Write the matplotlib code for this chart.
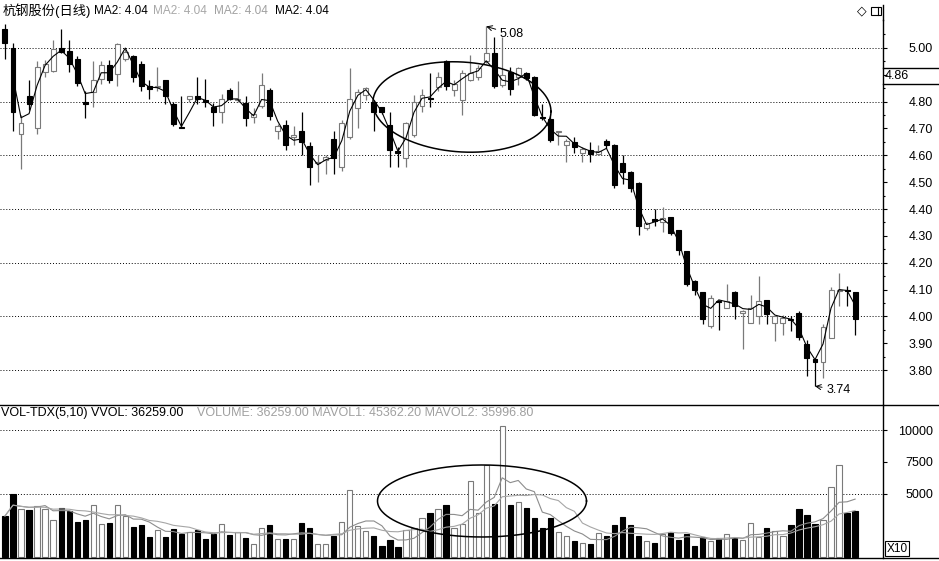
import matplotlib
matplotlib.use('Agg')
import matplotlib.pyplot as plt
import numpy as np
import pandas as pd
from matplotlib.lines import Line2D
from matplotlib.patches import Rectangle

plt.rcParams['font.family'] = ['Liberation Sans', 'Noto Sans CJK SC', 'DejaVu Sans']

# daily candles
opens = [5.07, 5.00, 4.68, 4.82, 4.70, 4.91, 4.915, 5.00, 4.99, 4.96,
         4.80, 4.836, 4.886, 4.935, 4.904, 4.96, 4.97, 4.94, 4.858, 4.855,
         4.88, 4.79, 4.705, 4.81, 4.82, 4.806, 4.78, 4.763, 4.845, 4.805,
         4.794, 4.744, 4.784, 4.844, 4.69, 4.712, 4.67, 4.69, 4.633, 4.57,
         4.583, 4.66, 4.558, 4.67, 4.775, 4.825, 4.80, 4.78, 4.713, 4.616,
         4.59, 4.676, 4.785, 4.815, 4.856, 4.953, 4.843, 4.806, 4.88, 4.893,
         4.95, 4.98, 4.862, 4.912, 4.893, 4.905, 4.893, 4.742, 4.735, 4.686,
         4.637, 4.65, 4.609, 4.618, 4.604, 4.653, 4.64, 4.57, 4.538, 4.497,
         4.328, 4.36, 4.353, 4.37, 4.32, 4.242, 4.13, 4.09, 3.964, 4.059,
         4.031, 4.09, 4.012, 3.977, 4.00, 4.06, 3.977, 3.977, 3.988, 4.012,
         3.897, 3.84, 3.831, 3.92, 4.095, 4.10, 4.09]
highs = [5.09, 5.02, 4.75, 4.88, 4.95, 4.955, 5.03, 5.07, 5.03, 4.97,
         4.84, 4.95, 4.95, 4.954, 5.02, 4.997, 4.973, 4.95, 4.88, 4.93,
         4.88, 4.80, 4.82, 4.822, 4.89, 4.885, 4.795, 4.83, 4.85, 4.875,
         4.82, 4.775, 4.906, 4.85, 4.715, 4.73, 4.71, 4.76, 4.65, 4.60,
         4.60, 4.69, 4.73, 4.925, 4.847, 4.856, 4.806, 4.781, 4.763, 4.632,
         4.725, 4.825, 4.847, 4.905, 4.91, 4.955, 4.88, 4.918, 4.975, 4.937,
         5.08, 5.04, 5.04, 4.93, 4.93, 4.91, 4.895, 4.79, 4.745, 4.688,
         4.662, 4.668, 4.63, 4.65, 4.637, 4.662, 4.642, 4.60, 4.54, 4.50,
         4.353, 4.40, 4.406, 4.372, 4.322, 4.245, 4.137, 4.092, 4.08, 4.06,
         4.122, 4.095, 4.022, 4.08, 4.15, 4.062, 4.00, 4.006, 4.00, 4.02,
         3.912, 3.841, 3.97, 4.11, 4.16, 4.112, 4.092]
lows = [4.96, 4.69, 4.55, 4.77, 4.68, 4.89, 4.91, 4.98, 4.91, 4.86,
        4.74, 4.78, 4.867, 4.87, 4.86, 4.95, 4.873, 4.84, 4.81, 4.84,
        4.79, 4.71, 4.70, 4.80, 4.79, 4.78, 4.71, 4.72, 4.805, 4.80,
        4.71, 4.72, 4.775, 4.73, 4.66, 4.62, 4.64, 4.60, 4.49, 4.50,
        4.53, 4.53, 4.54, 4.66, 4.70, 4.806, 4.69, 4.755, 4.558, 4.558,
        4.558, 4.67, 4.763, 4.78, 4.84, 4.843, 4.82, 4.75, 4.875, 4.88,
        4.943, 4.85, 4.856, 4.825, 4.862, 4.88, 4.745, 4.73, 4.65, 4.637,
        4.575, 4.61, 4.575, 4.575, 4.60, 4.628, 4.477, 4.495, 4.465, 4.304,
        4.322, 4.335, 4.316, 4.304, 4.23, 4.112, 4.08, 3.97, 3.958, 3.948,
        4.03, 3.99, 3.877, 3.977, 3.97, 3.97, 3.91, 3.93, 3.944, 3.912,
        3.777, 3.74, 3.77, 3.918, 4.04, 4.037, 3.93]
closes = [5.02, 4.76, 4.72, 4.79, 4.93, 4.94, 4.997, 4.985, 4.94, 4.87,
          4.79, 4.88, 4.935, 4.88, 5.014, 4.985, 4.89, 4.86, 4.848, 4.856,
          4.82, 4.715, 4.70, 4.82, 4.81, 4.80, 4.76, 4.81, 4.81, 4.81,
          4.74, 4.754, 4.862, 4.745, 4.71, 4.64, 4.672, 4.65, 4.558, 4.572,
          4.595, 4.59, 4.72, 4.81, 4.837, 4.852, 4.76, 4.762, 4.62, 4.61,
          4.72, 4.80, 4.825, 4.81, 4.89, 4.86, 4.865, 4.905, 4.905, 4.924,
          4.98, 4.86, 4.90, 4.847, 4.924, 4.887, 4.75, 4.738, 4.656, 4.687,
          4.655, 4.63, 4.625, 4.606, 4.615, 4.637, 4.489, 4.538, 4.477, 4.337,
          4.347, 4.357, 4.368, 4.31, 4.248, 4.12, 4.10, 3.99, 4.07, 4.053,
          4.056, 4.037, 4.021, 4.031, 4.059, 4.01, 4.00, 3.994, 3.985, 3.925,
          3.846, 3.832, 3.962, 4.10, 4.10, 4.093, 3.99]
# volume in axis units (x10)
volumes = [3235, 4944, 3813, 3682, 4024, 3813, 2893, 3892, 3629, 2788,
           2893, 4077, 2577, 2709, 4077, 3235, 2367, 2525, 1578, 2104,
           1578, 2236, 1788, 1973, 2104, 1447, 1841, 2577, 1736, 1973,
           1525, 1000, 2314, 2499, 1447, 1447, 1447, 2709, 2314, 1000,
           1052, 1657, 2762, 5286, 2446, 2051, 1657, 868, 1315, 789,
           2104, 2314, 3103, 3498, 3813, 4077, 2300, 2600, 5996, 3498,
           7259, 4155, 10336, 4077, 4366, 3892, 3103, 2262, 3103, 1973,
           1657, 1262, 1078, 1000, 1867, 1657, 2525, 3156, 2525, 1657,
           1262, 1078, 1788, 1973, 1341, 1841, 868, 1578, 1262, 1473,
           1788, 1473, 1341, 2709, 1604, 2314, 2051, 1657, 2525, 3813,
           3288, 2577, 2919, 5523, 7259, 3498, 3625.9]

price_ticks = [3.8, 3.9, 4.0, 4.1, 4.2, 4.3, 4.4, 4.5, 4.6, 4.7, 4.8, 4.9, 5.0]
price_labels = ['3.80', '3.90', '4.00', '4.10', '4.20', '4.30', '4.40', '4.50',
                '4.60', '4.70', '4.80', '', '5.00']
price_grid = [3.8, 4.0, 4.2, 4.4, 4.6, 4.8, 5.0]
vol_ticks = [5000, 7500, 10000]
vol_labels = ['5000', '7500', '10000']
vol_grid = [5000, 10000]

W, H = 939, 561
fig = plt.figure(figsize=(W / 100, H / 100), dpi=100)


def fx(px):
    return px / W


def fy(py):
    return 1 - py / H


ax = fig.add_axes([0, fy(405), fx(883), fy(20) - fy(405)])
axv = fig.add_axes([0, fy(558), fx(883), fy(405) - fy(558)])

n = len(closes)
x = np.arange(n)
o = np.array(opens)
c = np.array(closes)
up = c >= o
grey = '#7a7a7a'

# candles
wick_col = [grey if u else 'black' for u in up]
face = ['white' if u else 'black' for u in up]
edge = [grey if u else 'black' for u in up]
ax.vlines(x, lows, highs, colors=wick_col, lw=0.9, zorder=2)
bottoms = np.minimum(o, c)
heights = np.maximum(np.abs(c - o), 0.004)
ax.bar(x, heights, bottom=bottoms, width=0.62, color=face, edgecolor=edge,
       linewidth=0.8, zorder=3)

ma2 = pd.Series(closes).rolling(2).mean()
ax.plot(x, ma2, color='black', lw=0.8, zorder=4)

for g in price_grid:
    ax.axhline(g, color='black', lw=0.7, ls=(0, (1, 2)), zorder=1)

# ellipse around the top
t = np.linspace(0, 2 * np.pi, 300)
ex = 56.98 + 11.1 * np.cos(t)
ey = 4.78 + 0.1676 * np.sin(t) - 0.00151 * (ex - 56.98)
ax.plot(ex, ey, color='black', lw=1.1, zorder=5)

ax.annotate('5.08', xy=(60, 5.08), xytext=(61.7, 5.052), fontsize=9,
            va='center', ha='left',
            arrowprops=dict(arrowstyle='->', lw=0.7, color='black',
                            shrinkA=1, shrinkB=0))
ax.annotate('3.74', xy=(101, 3.74), xytext=(102.4, 3.727), fontsize=9,
            va='center', ha='left',
            arrowprops=dict(arrowstyle='->', lw=0.7, color='black',
                            shrinkA=1, shrinkB=0))

ax.set_xlim(-0.62, 109.48)
ax.set_ylim(3.670, 5.104)

# volume
axv.bar(x, volumes, width=0.65, color=face, edgecolor=edge, linewidth=0.8,
        zorder=3)
vs = pd.Series(volumes)
axv.plot(x, vs.rolling(5, min_periods=1).mean(), color='#8c8c8c', lw=0.8, zorder=4)
axv.plot(x, vs.rolling(10, min_periods=1).mean(), color='#a6a6a6', lw=0.8, zorder=4)
for g in vol_grid:
    axv.axhline(g, color='black', lw=0.7, ls=(0, (1, 2)), zorder=1)
vx = 59.48 + 13.03 * np.cos(t)
vy = 4418 + 2840 * np.sin(t)
axv.plot(vx, vy, color='black', lw=1.1, zorder=5)
axv.set_xlim(-0.62, 109.48)
axv.set_ylim(-79, 11990)

for a in (ax, axv):
    for s in ('top', 'left', 'bottom'):
        a.spines[s].set_visible(False)
    a.spines['right'].set_linewidth(1.0)
    a.set_xticks([])
    a.yaxis.tick_right()
    a.tick_params(axis='y', which='major', length=3, width=0.8, pad=33,
                  labelsize=9)

ax.set_yticks(price_ticks)
ax.set_yticklabels(price_labels)
ax.set_yticks(np.array(price_ticks) + 0.05, minor=True)
ax.tick_params(axis='y', which='minor', length=1.5, width=0.8)
axv.set_yticks(vol_ticks)
axv.set_yticklabels(vol_labels)
for a in (ax, axv):
    for lab in a.get_yticklabels():
        lab.set_horizontalalignment('right')

# frame lines
fig.add_artist(Line2D([0, 1], [fy(405)] * 2, color='black', lw=1.0))
fig.add_artist(Line2D([0, 1], [fy(558)] * 2, color='black', lw=1.0))
fig.add_artist(Line2D([fx(883)] * 2, [fy(5), fy(20)], color='black', lw=1.0))

# current price box
fig.add_artist(Line2D([fx(883), 1], [fy(68)] * 2, color='black', lw=1.0))
fig.add_artist(Line2D([fx(883), 1], [fy(84)] * 2, color='black', lw=1.0))
fig.text(fx(885), fy(76), '4.86', fontsize=9, va='center', ha='left')

# X10 box
fig.add_artist(Rectangle((fx(885), fy(556)), fx(909) - fx(885), fy(541) - fy(556),
                         fill=False, edgecolor='black', lw=0.8))
fig.text(fx(897), fy(548.5), 'X10', fontsize=8.5, va='center', ha='center')

# header texts
fig.text(fx(3), fy(11), '杭钢股份(日线)', fontsize=9.5, va='center', ha='left')
fig.text(fx(94), fy(11), 'MA2: 4.04', fontsize=8.5, va='center', ha='left')
fig.text(fx(153), fy(11), 'MA2: 4.04', fontsize=8.5, va='center', ha='left', color='#a8a8a8')
fig.text(fx(214), fy(11), 'MA2: 4.04', fontsize=8.5, va='center', ha='left', color='#a0a0a0')
fig.text(fx(275), fy(11), 'MA2: 4.04', fontsize=8.5, va='center', ha='left')

fig.text(fx(1), fy(413), 'VOL-TDX(5,10) VVOL: 36259.00', fontsize=9,
         va='center', ha='left')
fig.text(fx(197), fy(413), 'VOLUME: 36259.00 MAVOL1: 45362.20 MAVOL2: 35996.80',
         fontsize=9, va='center', ha='left', color='#a0a0a0')

# top-right icons
fig.text(fx(862), fy(11), '◇', fontsize=9, va='center', ha='center',
         family=['DejaVu Sans'])
fig.add_artist(Rectangle((fx(871), fy(15)), fx(881) - fx(871), fy(7) - fy(15),
                         fill=False, edgecolor='black', lw=0.8))
fig.add_artist(Line2D([fx(878)] * 2, [fy(7), fy(15)], color='black', lw=0.8))

fig.savefig('out.png', dpi=100)
